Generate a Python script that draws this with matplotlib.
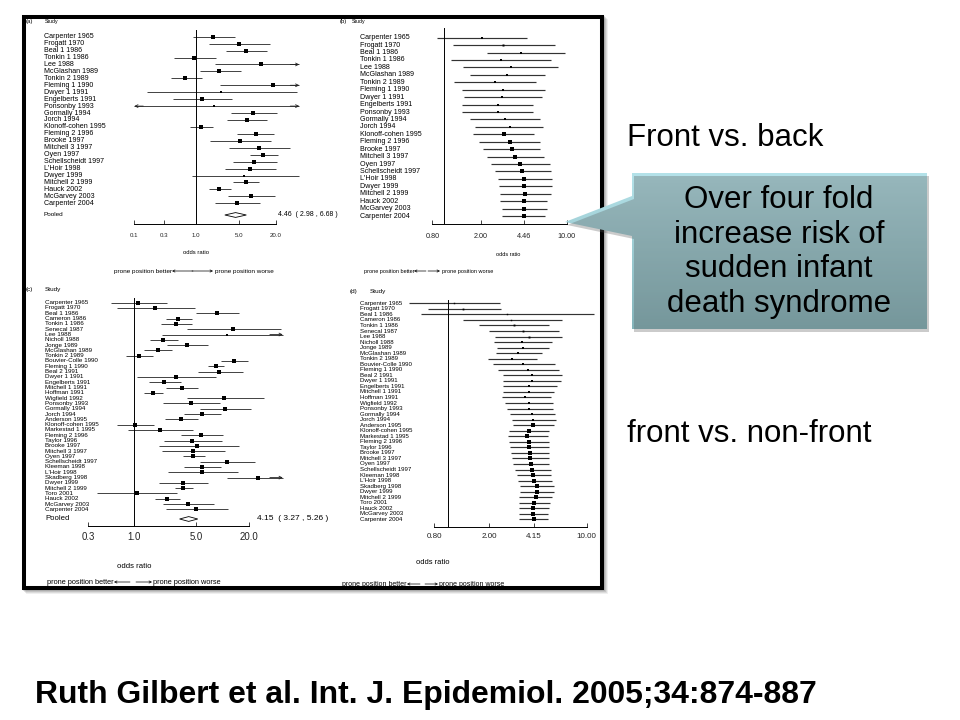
import numpy as np
import matplotlib
matplotlib.use("Agg")
import matplotlib.pyplot as plt
from matplotlib import transforms
from matplotlib.colors import LinearSegmentedColormap
from matplotlib.patches import Polygon, Rectangle
from matplotlib.ticker import NullLocator

plt.rcParams["font.family"] = ["Liberation Sans", "DejaVu Sans"]

W, H = 960, 720

# ---- front vs. back: single studies (a) and cumulative meta-analysis (b) ----
studies_fb = ["Carpenter 1965", "Frogatt 1970", "Beal 1 1986", "Tonkin 1 1986", "Lee 1988",
              "McGlashan 1989", "Tonkin 2 1989", "Fleming 1 1990", "Dwyer 1 1991",
              "Engelberts 1991", "Ponsonby 1993", "Gormally 1994", "Jorch 1994",
              "Klonoff-cohen 1995", "Fleming 2 1996", "Brooke 1997", "Mitchell 3 1997",
              "Oyen 1997", "Schellscheidt 1997", "L'Hoir 1998", "Dwyer 1999",
              "Mitchell 2 1999", "Hauck 2002", "McGarvey 2003", "Carpenter 2004"]
or_a = [1.94, 5.1, 6.6, 0.94, 11.4, 2.43, 0.68, 18.4, 2.62, 1.25, 2.0, 8.7, 6.8,
        1.24, 9.5, 5.2, 10.6, 12.6, 8.9, 7.6, 6.2, 6.5, 2.43, 8.0, 4.7]
lo_a = [0.92, 1.67, 3.12, 0.45, 2.06, 1.18, 0.40, 2.49, 0.16, 0.42, 0.08, 3.72, 3.2,
        0.81, 4.77, 1.71, 3.49, 7.7, 4.0, 3.0, 0.86, 4.1, 1.65, 3.4, 2.06]
hi_a = [4.37, 16.2, 14.3, 2.14, 60.0, 5.4, 1.27, 60.0, 45.0, 3.86, 60.0, 20.8, 14.7,
        1.94, 19.1, 16.9, 34.4, 22.2, 20.8, 20.1, 48.0, 10.9, 3.8, 19.6, 11.2]
pooled_a = (4.46, 2.98, 6.68)

or_b = [2.05, 3.04, 4.2, 2.89, 3.5, 3.26, 2.58, 3.02, 2.98, 2.73, 2.73, 3.15, 3.44,
        3.09, 3.44, 3.55, 3.8, 4.15, 4.35, 4.45, 4.5, 4.55, 4.45, 4.48, 4.46]
lo_b = [0.88, 1.19, 2.25, 1.14, 1.43, 1.62, 1.2, 1.41, 1.45, 1.40, 1.41, 1.62, 1.77,
        1.73, 1.93, 2.06, 2.22, 2.39, 2.6, 2.73, 2.78, 2.85, 2.85, 2.95, 2.98]
hi_b = [4.77, 8.0, 9.6, 7.5, 8.5, 6.6, 5.6, 6.6, 6.3, 5.3, 5.3, 6.1, 6.4,
        5.4, 6.1, 6.1, 6.5, 7.3, 7.5, 7.6, 7.6, 7.5, 6.95, 6.9, 6.68]

# ---- front vs. non-front: single studies (c) and cumulative meta-analysis (d) ----
studies_fn = ["Carpenter 1965", "Frogatt 1970", "Beal 1 1986", "Cameron 1986", "Tonkin 1 1986",
              "Senecal 1987", "Lee 1988", "Nicholl 1988", "Jonge 1989", "McGlashan 1989",
              "Tonkin 2 1989", "Bouvier-Colle 1990", "Fleming 1 1990", "Beal 2 1991",
              "Dwyer 1 1991", "Engelberts 1991", "Mitchell 1 1991", "Hoffman 1991",
              "Wigfield 1992", "Ponsonby 1993", "Gormally 1994", "Jorch 1994",
              "Anderson 1995", "Klonoff-cohen 1995", "Markestad 1 1995", "Fleming 2 1996",
              "Taylor 1996", "Brooke 1997", "Mitchell 3 1997", "Oyen 1997",
              "Schellscheidt 1997", "Kleeman 1998", "L'Hoir 1998", "Skadberg 1998",
              "Dwyer 1999", "Mitchell 2 1999", "Toro 2001", "Hauck 2002",
              "McGarvey 2003", "Carpenter 2004"]
or_c = [1.11, 1.72, 8.6, 3.16, 2.97, 13.3, 11.2, 2.14, 3.93, 1.84, 1.13, 13.6, 8.5, 9.2,
        2.95, 2.17, 3.45, 1.62, 10.5, 4.37, 10.7, 5.9, 3.39, 1.02, 1.96, 5.7, 4.49, 5.2,
        4.6, 4.6, 11.2, 5.9, 5.9, 25.2, 3.6, 3.6, 1.06, 2.33, 4.04, 5.0]
lo_c = [0.54, 0.63, 4.98, 2.27, 2.01, 3.93, 2.04, 1.51, 2.33, 1.3, 0.8, 9.6, 6.8, 5.3,
        1.08, 1.48, 2.27, 1.3, 3.93, 2.14, 5.6, 3.7, 2.23, 0.64, 0.85, 3.39, 2.19, 1.92,
        2.04, 3.54, 5.6, 3.7, 2.39, 11.2, 1.92, 2.9, 0.38, 1.72, 2.1, 2.29]
hi_c = [2.33, 4.89, 15.6, 4.49, 4.57, 46.0, 60.0, 3.16, 6.8, 2.7, 1.64, 19.4, 10.4, 17.0,
        8.5, 3.39, 5.34, 2.1, 30.0, 9.4, 21.0, 9.65, 5.34, 1.69, 4.6, 10.2, 9.8, 15.4,
        10.7, 6.35, 23.5, 9.65, 14.9, 60.0, 6.9, 4.6, 3.08, 3.3, 8.1, 11.5]
pooled_c = (4.15, 3.27, 5.26)

or_d = [1.11, 1.3, 2.66, 2.86, 2.99, 3.5, 3.83, 3.43, 3.5, 3.23, 2.9, 3.48, 3.8, 4.07,
        4.02, 3.85, 3.83, 3.62, 3.83, 3.85, 4.04, 4.13, 4.09, 3.83, 3.75, 3.83, 3.83, 3.9,
        3.92, 3.96, 4.07, 4.13, 4.2, 4.37, 4.37, 4.32, 4.2, 4.13, 4.13, 4.15]
lo_d = [0.53, 0.72, 0.65, 1.29, 1.69, 2.0, 2.19, 2.16, 2.26, 2.23, 1.97, 2.11, 2.32, 2.52,
        2.52, 2.49, 2.52, 2.45, 2.6, 2.66, 2.81, 2.92, 2.94, 2.75, 2.71, 2.78, 2.81, 2.85,
        2.89, 2.94, 3.05, 3.14, 3.19, 3.32, 3.32, 3.28, 3.27, 3.27, 3.28, 3.27]
hi_d = [2.38, 2.41, 11.2, 6.6, 5.33, 6.36, 6.7, 5.6, 5.33, 4.75, 4.37, 5.9, 6.36, 6.68,
        6.5, 6.1, 5.85, 5.5, 5.76, 5.76, 5.95, 5.98, 5.85, 5.38, 5.3, 5.38, 5.33, 5.38,
        5.38, 5.38, 5.5, 5.5, 5.6, 5.83, 5.83, 5.6, 5.45, 5.38, 5.3, 5.26]

ticks_a = [0.1, 0.3, 1.0, 5.0, 20.0]
ticklabels_a = ["0.1", "0.3", "1.0", "5.0", "20.0"]
ticks_b = [0.80, 2.00, 4.46, 10.00]
ticklabels_b = ["0.80", "2.00", "4.46", "10.00"]
ticks_c = [0.3, 1.0, 5.0, 20.0]
ticklabels_c = ["0.3", "1.0", "5.0", "20.0"]
ticks_d = [0.80, 2.00, 4.15, 10.00]
ticklabels_d = ["0.80", "2.00", "4.15", "10.00"]

fig = plt.figure(figsize=(W / 100, H / 100), dpi=100)

# background layer in pixel coordinates: framed picture + slide text
bg = fig.add_axes([0, 0, 1, 1], zorder=0)
bg.set_xlim(0, W)
bg.set_ylim(H, 0)
bg.axis("off")

for k, a in enumerate([0.10, 0.14, 0.18, 0.22]):
    off = 4 - k
    bg.add_patch(Rectangle((24 + off, 17 + off), 578, 571, facecolor="none",
                           edgecolor="#606060", lw=2.8, alpha=a))
bg.add_patch(Rectangle((24, 17), 578, 571, facecolor="white", edgecolor="black", lw=2.9))


def txt(x, y, s, fs, ha="left", **kw):
    return bg.text(x, y, s, fontsize=fs, ha=ha, va="center", **kw)


def hint(y, better_end, a1, a2, worse_start, fs):
    txt(better_end, y, "prone position better", fs, ha="right")
    bg.annotate("", xy=(better_end, y), xytext=(a1, y),
                arrowprops=dict(arrowstyle="->", lw=0.5, shrinkA=0, shrinkB=0, mutation_scale=4))
    bg.annotate("", xy=(a2, y), xytext=(a2 - (a1 - better_end), y),
                arrowprops=dict(arrowstyle="->", lw=0.5, shrinkA=0, shrinkB=0, mutation_scale=4))
    txt(worse_start, y, "prone position worse", fs)


def forest(box, ref, ppd, y0, dy, names, est, lo, hi, ticks, ticklabels,
           name_x, fs_name, fs_tick, pad, line_col, line_w, sizes, clip,
           pooled=None, pooled_y=None):
    left, right, top, bottom = box
    ax = fig.add_axes([left / W, 1 - bottom / H, (right - left) / W, (bottom - top) / H], zorder=1)
    ax.patch.set_alpha(0)
    ax.set_xscale("log")
    ax.set_xlim(10 ** ((left - ref) / ppd), 10 ** ((right - ref) / ppd))
    ax.set_ylim((bottom - y0) / dy, (top - y0) / dy)

    est, lo, hi = np.asarray(est), np.asarray(lo), np.asarray(hi)
    rows = np.arange(len(names))
    lo_c = np.clip(lo, clip[0], clip[1])
    hi_c = np.clip(hi, clip[0], clip[1])
    ax.hlines(rows, lo_c, hi_c, color=line_col, lw=line_w, clip_on=False)
    for i in rows:
        if hi[i] > clip[1]:
            ax.annotate("", xy=(clip[1], i), xytext=(clip[1] / 1.4, i),
                        arrowprops=dict(arrowstyle="->", color=line_col, lw=line_w,
                                        shrinkA=0, shrinkB=0, mutation_scale=5))
        if lo[i] < clip[0]:
            ax.annotate("", xy=(clip[0], i), xytext=(clip[0] * 1.4, i),
                        arrowprops=dict(arrowstyle="->", color=line_col, lw=line_w,
                                        shrinkA=0, shrinkB=0, mutation_scale=5))
        ax.plot(est[i], i, "s", ms=sizes[i] * 0.72, color="black", mew=0, clip_on=False)

    ax.axvline(1.0, color="black", lw=0.7)

    trans = transforms.blended_transform_factory(bg.transData, ax.transData)
    for i, name in zip(rows, names):
        ax.text(name_x, i, name, transform=trans, fontsize=fs_name, va="center", ha="left")

    if pooled is not None:
        p_est, p_lo, p_hi = pooled
        yp = (pooled_y - y0) / dy
        h = 2.4 / dy
        ax.fill([p_lo, p_est, p_hi, p_est], [yp, yp - h, yp, yp + h],
                facecolor="white", edgecolor="black", lw=0.6)

    for s in ["top", "left", "right"]:
        ax.spines[s].set_visible(False)
    ax.spines["bottom"].set_bounds(ticks[0], ticks[-1])
    ax.spines["bottom"].set_linewidth(0.7)
    ax.set_xticks(ticks)
    ax.set_xticklabels(ticklabels)
    ax.xaxis.set_minor_locator(NullLocator())
    ax.tick_params(axis="x", direction="in", length=3, width=0.6, labelsize=fs_tick,
                   pad=pad, colors="#222222")
    ax.tick_params(axis="y", left=False, labelleft=False)
    return ax


def box_sizes(lo, hi, ref_w, power, smin, smax, scale):
    w = np.log(np.asarray(hi) / np.asarray(lo))
    return np.clip(scale * (ref_w / w) ** power, smin, smax)


# (a)
forest((134.3, 300, 30, 224.3), 195.7, 61.4, 36.7, 6.94, studies_fb, or_a, lo_a, hi_a,
       ticks_a, ticklabels_a, 44, 5.1, 4.4, 6.3, "#222222", 0.6,
       box_sizes(lo_a, hi_a, 0.85, 0.3, 2.0, 5.0, 4.7), (0.1, 48.6),
       pooled=pooled_a, pooled_y=215)
txt(26, 22, "(a)", 4.3)
txt(45, 22, "Study", 3.8)
txt(44, 215, "Pooled", 4.6)
txt(278, 215, "%.2f  ( %.2f , %.2f )" % pooled_a, 5.0)
txt(196, 253, "odds ratio", 4.2, ha="center")
hint(271, 172, 193, 213, 215, 4.6)

# (b)
forest((432.3, 572, 28, 224), 444.2, 122.5, 37.7, 7.43, studies_fb, or_b, lo_b, hi_b,
       ticks_b, ticklabels_b, 360, 5.1, 5.2, 6.5, "#333333", 0.85,
       box_sizes(lo_b, hi_b, 0.807, 1.0, 1.4, 4.8, 4.7), (0.1, 50))
txt(340, 22, "(b)", 4.3)
txt(352, 22, "Study", 3.8)
txt(508, 255, "odds ratio", 4.0, ha="center")
hint(271, 414, 426, 440, 442, 4.0)

# (c)
forest((88.3, 284, 298, 526), 134.3, 88.0, 302.7, 5.30, studies_fn, or_c, lo_c, hi_c,
       ticks_c, ticklabels_c, 45, 4.5, 6.9, 4.4, "#222222", 0.6,
       box_sizes(lo_c, hi_c, 0.85, 0.3, 2.0, 4.8, 4.5), (0.3, 48.6),
       pooled=pooled_c, pooled_y=519)
txt(26, 290, "(c)", 4.6)
txt(45, 290, "Study", 4.6)
txt(45, 519, "Pooled", 5.6)
txt(257, 519, "%.2f  ( %.2f , %.2f )" % pooled_c, 6.0)
txt(134, 567, "odds ratio", 5.6, ha="center")
hint(582, 114, 130, 152, 153, 5.3)

# (d)
forest((434, 596, 300, 526.7), 447.5, 139.2, 303.3, 5.54, studies_fn, or_d, lo_d, hi_d,
       ticks_d, ticklabels_d, 360, 4.4, 5.8, 4.2, "#333333", 0.85,
       box_sizes(lo_d, hi_d, 0.475, 1.0, 1.4, 4.6, 4.5), (0.1, 50))
txt(350, 291, "(d)", 4.6)
txt(370, 291, "Study", 4.6)
txt(433, 563, "odds ratio", 5.4, ha="center")
hint(584, 407, 420, 438, 439, 5.0)

# slide text
bg.text(627, 146, "Front vs. back", fontsize=22.5, ha="left", va="baseline")
bg.text(627, 442, "front vs. non-front", fontsize=22.5, ha="left", va="baseline")
cite = bg.text(35, 703, "Ruth Gilbert et al. Int. J. Epidemiol. 2005;34:874-887",
               fontsize=20, fontweight="bold", ha="left", va="baseline",
               family=["Liberation Sans Narrow", "Liberation Sans"])
fig.canvas.draw()
wcite = cite.get_window_extent(fig.canvas.get_renderer()).width
cite.set_fontsize(20 * 781 / wcite)

# callout on top
fg = fig.add_axes([0, 0, 1, 1], zorder=3)
fg.patch.set_alpha(0)
fg.axis("off")
call_xy = [(632, 173), (927, 173), (927, 329), (632, 329), (632, 236), (565, 222), (632, 196)]
shadow = Polygon([(x + 2, y + 3) for x, y in call_xy], closed=True,
                 facecolor="#555555", edgecolor="none", alpha=0.3)
fg.add_patch(shadow)
callout = Polygon(call_xy, closed=True, facecolor="none", edgecolor="none")
fg.add_patch(callout)
cmap = LinearSegmentedColormap.from_list("teal", ["#B4E2E9", "#84B4BA"])
grad = np.linspace(0, 1, 256).reshape(-1, 1)
im = fg.imshow(grad, extent=(565, 927, 329, 173), cmap=cmap, aspect="auto",
               origin="upper", interpolation="bilinear")
im.set_clip_path(callout)
fg.set_xlim(0, W)
fg.set_ylim(H, 0)
fg.text(779, 252, "Over four fold\nincrease risk of\nsudden infant\ndeath syndrome",
        fontsize=22.5, ha="center", va="center", linespacing=1.2)

fig.savefig("out.png", dpi=100)
